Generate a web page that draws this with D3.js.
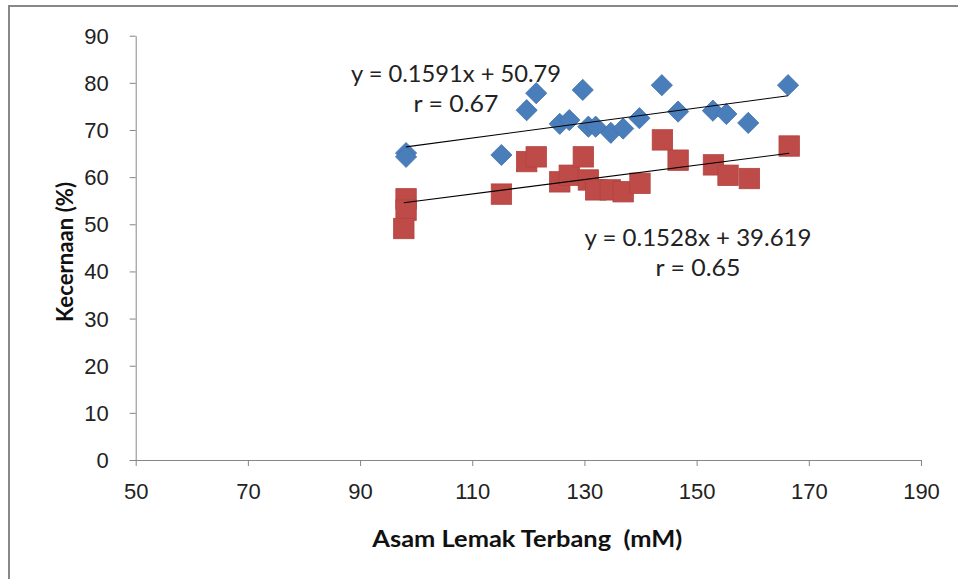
<!DOCTYPE html>
<html>
<head>
<meta charset="utf-8">
<script src="https://cdn.jsdelivr.net/npm/d3@7"></script>
<style>
  html, body { margin: 0; padding: 0; background: #fff; }
  svg { display: block; font-family: Lato, "Open Sans", sans-serif; }
  .axis path, .axis line { stroke: #868686; }
  .axis text { fill: #222; font-size: 22px; }
</style>
</head>
<body>
<svg id="chart" width="958" height="579"></svg>
<script>
/* ---------- data ---------- */
const asamBlue = [98.2, 98.2, 115.2, 119.7, 121.4, 125.6, 127.3, 129.7, 130.7, 132.0, 134.7, 136.9, 139.8, 143.8, 146.7, 152.9, 155.3, 159.2, 166.3];
const kecernaanBlue = [65.1, 64.3, 64.7, 74.2, 77.8, 71.3, 72.1, 78.5, 70.7, 70.7, 69.4, 70.3, 72.5, 79.5, 73.9, 74.1, 73.4, 71.5, 79.5];

const asamRed = [98.2, 98.2, 97.8, 115.2, 119.7, 121.4, 125.6, 127.3, 129.8, 130.7, 132.0, 134.6, 136.9, 139.9, 143.9, 146.7, 153.0, 155.6, 159.4, 166.5];
const kecernaanRed = [55.4, 53.0, 49.1, 56.4, 63.3, 64.3, 59.0, 60.4, 64.3, 59.4, 57.3, 57.3, 56.9, 58.7, 67.9, 63.6, 62.6, 60.4, 59.7, 66.6];

const fitBlue = {slope: 0.1591, intercept: 50.79, label: "y = 0.1591x + 50.79", r: "r = 0.67"};
const fitRed = {slope: 0.1528, intercept: 39.619, label: "y = 0.1528x + 39.619", r: "r = 0.65"};

const xTicks = [50, 70, 90, 110, 130, 150, 170, 190];
const yTicks = [0, 10, 20, 30, 40, 50, 60, 70, 80, 90];

/* ---------- layout ---------- */
const svg = d3.select("#chart");
const plot = {left: 135.7, right: 921, top: 35.7, bottom: 460};

// outer chart frame (only left & top edges fall inside the window)
svg.append("rect")
    .attr("x", 9).attr("y", 6).attr("width", 1000).attr("height", 1000)
    .attr("fill", "none").attr("stroke", "#888").attr("stroke-width", 2);

const x = d3.scaleLinear().domain([50, 190]).range([plot.left, plot.right]);
const y = d3.scaleLinear().domain([0, 90]).range([plot.bottom, plot.top]);

/* ---------- axes ---------- */
const yAxis = svg.append("g").attr("class", "axis")
    .attr("transform", `translate(${plot.left},0)`)
    .call(d3.axisLeft(y).tickValues(yTicks).tickSize(6).tickSizeOuter(0).tickPadding(21));
yAxis.selectAll("text").attr("dy", "0.34em");

const xAxis = svg.append("g").attr("class", "axis")
    .attr("transform", `translate(0,${plot.bottom})`)
    .call(d3.axisBottom(x).tickValues(xTicks).tickSize(6).tickSizeOuter(0).tickPadding(17));
xAxis.select(".domain").attr("d", `M${plot.left - 6},0.5H${plot.right}`);

/* ---------- trendlines ---------- */
function trend(xs, fit) {
    const [x0, x1] = d3.extent(xs);
    svg.append("line")
        .attr("x1", x(x0)).attr("y1", y(fit.slope * x0 + fit.intercept))
        .attr("x2", x(x1)).attr("y2", y(fit.slope * x1 + fit.intercept))
        .attr("stroke", "#000").attr("stroke-width", 1.1);
}

/* ---------- markers ---------- */
const diamond = 10.6, half = 10.2;

svg.append("g").selectAll("path")
    .data(d3.zip(asamBlue, kecernaanBlue))
    .join("path")
    .attr("d", ([a, k]) => {
        const cx = x(a), cy = y(k);
        return `M${cx},${cy - diamond}L${cx + diamond},${cy}L${cx},${cy + diamond}L${cx - diamond},${cy}Z`;
    })
    .attr("fill", "#4A7EBB").attr("stroke", "#3F71AD").attr("stroke-width", 0.8);

svg.append("g").selectAll("rect")
    .data(d3.zip(asamRed, kecernaanRed))
    .join("rect")
    .attr("x", ([a]) => x(a) - half).attr("y", ([, k]) => y(k) - half)
    .attr("width", half * 2).attr("height", half * 2)
    .attr("fill", "#BE4B48").attr("stroke", "#B14340").attr("stroke-width", 0.8);

trend(asamBlue, fitBlue);
trend(asamRed, fitRed);

/* ---------- labels ---------- */
function fitLabel(cx, y1, y2, fit, w1) {
    svg.append("text").attr("x", cx).attr("y", y1).attr("text-anchor", "middle")
        .attr("font-size", 24).attr("fill", "#222")
        .attr("textLength", w1).attr("lengthAdjust", "spacingAndGlyphs")
        .text(fit.label);
    svg.append("text").attr("x", cx).attr("y", y2).attr("text-anchor", "middle")
        .attr("font-size", 24).attr("fill", "#222")
        .attr("textLength", 85).attr("lengthAdjust", "spacingAndGlyphs")
        .text(fit.r);
}
fitLabel(456, 82, 112, fitBlue, 210);
fitLabel(698, 246, 276, fitRed, 227);

svg.append("text")
    .attr("x", (plot.left + plot.right) / 2 - 1).attr("y", 547)
    .attr("text-anchor", "middle").attr("font-weight", "bold").attr("font-size", 22)
    .attr("fill", "#111").style("white-space", "pre")
    .attr("textLength", 310).attr("lengthAdjust", "spacingAndGlyphs")
    .text("Asam Lemak Terbang  (mM)");

svg.append("text")
    .attr("transform", `translate(73,252) rotate(-90)`)
    .attr("text-anchor", "middle").attr("font-weight", "bold").attr("font-size", 22)
    .attr("fill", "#111")
    .attr("textLength", 140).attr("lengthAdjust", "spacingAndGlyphs")
    .text("Kecernaan (%)");
</script>
</body>
</html>
